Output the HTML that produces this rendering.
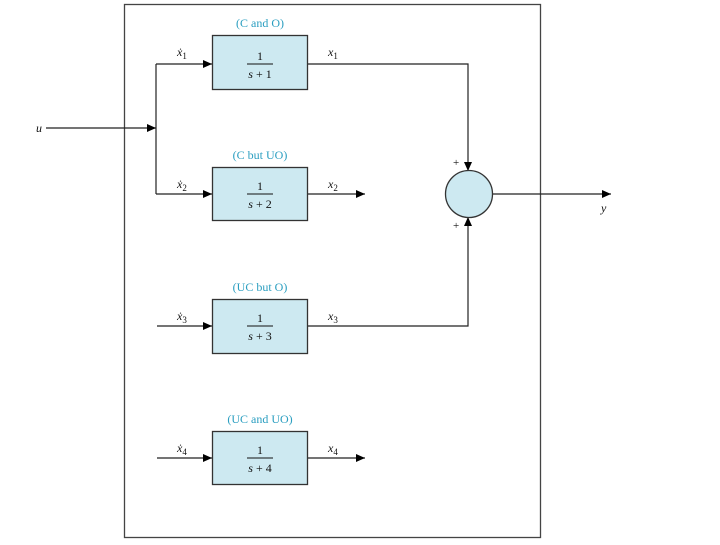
<!DOCTYPE html>
<html><head><meta charset="utf-8"><style>html,body{margin:0;padding:0;background:#fff}</style></head>
<body>
<svg width="720" height="540" viewBox="0 0 720 540" xmlns="http://www.w3.org/2000/svg" font-family="Liberation Serif, serif">
<defs><marker id="a" markerWidth="10" markerHeight="8" refX="9" refY="4" orient="auto" markerUnits="userSpaceOnUse"><path d="M0,0 L9,4 L0,8z" fill="#000"/></marker></defs>
<rect x="124.5" y="4.5" width="416" height="533" fill="none" stroke="#444" stroke-width="1.3"/>
<g stroke="#222" stroke-width="1.2" fill="none">
<line x1="46" y1="128" x2="156" y2="128" marker-end="url(#a)"/>
<polyline points="156,64 156,194"/>
<line x1="156" y1="64" x2="212" y2="64" marker-end="url(#a)"/>
<line x1="156" y1="194" x2="212" y2="194" marker-end="url(#a)"/>
<line x1="157" y1="326" x2="212" y2="326" marker-end="url(#a)"/>
<line x1="157" y1="458" x2="212" y2="458" marker-end="url(#a)"/>
<polyline points="308,64 468,64 468,171" marker-end="url(#a)"/>
<polyline points="308,326 468,326 468,217" marker-end="url(#a)"/>
<line x1="308" y1="194" x2="365" y2="194" marker-end="url(#a)"/>
<line x1="308" y1="458" x2="365" y2="458" marker-end="url(#a)"/>
<line x1="492" y1="194" x2="611" y2="194" marker-end="url(#a)"/>
</g>
<g fill="#cde9f1" stroke="#333" stroke-width="1.3">
<rect x="212.5" y="35.5" width="95" height="54"/>
<rect x="212.5" y="167.5" width="95" height="53"/>
<rect x="212.5" y="299.5" width="95" height="54"/>
<rect x="212.5" y="431.5" width="95" height="53"/>
<circle cx="469" cy="194" r="23.5"/>
</g>
<g font-size="12" fill="#2a9ec0" text-anchor="middle">
<text x="260" y="27">(C and O)</text>
<text x="260" y="159">(C but UO)</text>
<text x="260" y="291">(UC but O)</text>
<text x="260" y="423">(UC and UO)</text>
</g>
<g font-size="12" fill="#111" text-anchor="middle">
<text x="260" y="60">1</text><line x1="247" y1="64" x2="273" y2="64" stroke="#111"/><text x="260" y="78"><tspan font-style="italic">s</tspan> + 1</text>
<text x="260" y="190">1</text><line x1="247" y1="194" x2="273" y2="194" stroke="#111"/><text x="260" y="208"><tspan font-style="italic">s</tspan> + 2</text>
<text x="260" y="322">1</text><line x1="247" y1="326" x2="273" y2="326" stroke="#111"/><text x="260" y="340"><tspan font-style="italic">s</tspan> + 3</text>
<text x="260" y="454">1</text><line x1="247" y1="458" x2="273" y2="458" stroke="#111"/><text x="260" y="472"><tspan font-style="italic">s</tspan> + 4</text>
</g>
<g font-size="12" fill="#111" font-style="italic">
<text x="36" y="132">u</text>
<text x="601" y="212">y</text>
<text x="177" y="56">ẋ<tspan font-size="9" font-style="normal" dy="3">1</tspan></text>
<text x="177" y="188">ẋ<tspan font-size="9" font-style="normal" dy="3">2</tspan></text>
<text x="177" y="320">ẋ<tspan font-size="9" font-style="normal" dy="3">3</tspan></text>
<text x="177" y="452">ẋ<tspan font-size="9" font-style="normal" dy="3">4</tspan></text>
<text x="328" y="56">x<tspan font-size="9" font-style="normal" dy="3">1</tspan></text>
<text x="328" y="188">x<tspan font-size="9" font-style="normal" dy="3">2</tspan></text>
<text x="328" y="320">x<tspan font-size="9" font-style="normal" dy="3">3</tspan></text>
<text x="328" y="452">x<tspan font-size="9" font-style="normal" dy="3">4</tspan></text>
</g>
<g font-size="11" fill="#111"><text x="453" y="166">+</text><text x="453" y="229">+</text></g>
</svg>
</body></html>
